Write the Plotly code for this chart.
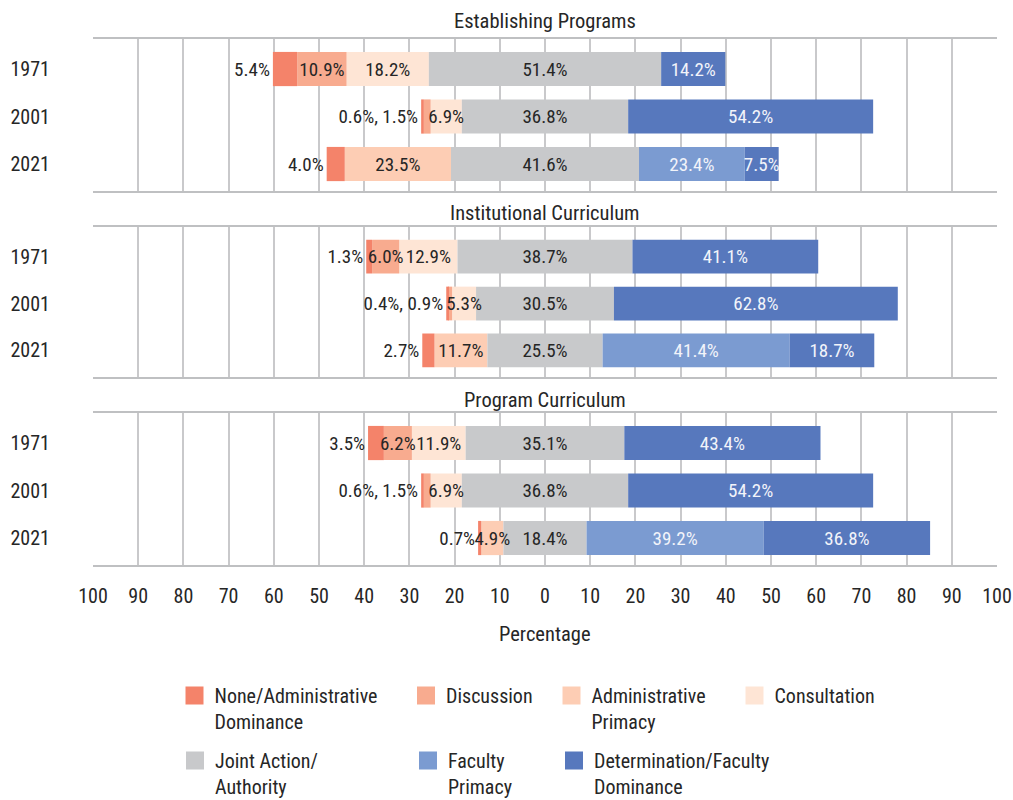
import plotly.graph_objects as go

# ---------------- data ----------------
years = ["1971", "2001", "2021"]
panels = ["Establishing Programs", "Institutional Curriculum", "Program Curriculum"]

none_admin = [[5.4, 0.6, 4.0], [1.3, 0.4, 2.7], [3.5, 0.6, 0.7]]
discussion = [[10.9, 1.5, 0.0], [6.0, 0.9, 0.0], [6.2, 1.5, 0.0]]
admin_primacy = [[0.0, 0.0, 23.5], [0.0, 0.0, 11.7], [0.0, 0.0, 4.9]]
consultation = [[18.2, 6.9, 0.0], [12.9, 5.3, 0.0], [11.9, 6.9, 0.0]]
joint = [[51.4, 36.8, 41.6], [38.7, 30.5, 25.5], [35.1, 36.8, 18.4]]
faculty_primacy = [[0.0, 0.0, 23.4], [0.0, 0.0, 41.4], [0.0, 0.0, 39.2]]
determination = [[14.2, 54.2, 7.5], [41.1, 62.8, 18.7], [43.4, 54.2, 36.8]]

series_names = ["None/Administrative<br>Dominance", "Discussion", "Administrative<br>Primacy",
                "Consultation", "Joint Action/<br>Authority", "Faculty<br>Primacy",
                "Determination/Faculty<br>Dominance"]
colors = ["#F4836A", "#F8AB8F", "#FDCDB4", "#FEE5D5", "#C8C9CB", "#7B9BD1", "#5778BD"]

tick_vals = list(range(-100, 101, 10))
tick_text = [str(abs(v)) for v in tick_vals]

FONT = "Liberation Sans Narrow, Roboto Condensed, DejaVu Sans Condensed, Roboto, sans-serif"
DARK = "#262626"
LIGHT = "#F2F4FA"
W, H = 1013, 800
LBL = 19

fig = go.Figure()


def fmt(v):
    return f"{v:.1f}%"


segments = []   # (panel, colour index, lengths, bases, texts, textposition, text colour)
for p in range(3):
    left = [(3, consultation[p]), (2, admin_primacy[p]), (1, discussion[p]), (0, none_admin[p])]
    cum = [j / 2 for j in joint[p]]
    for idx, vals in left:
        texts = []
        for k, v in enumerate(vals):
            if v <= 0:
                texts.append("")
            elif idx == 0:
                d = discussion[p][k]
                texts.append(f"{fmt(v)}, {fmt(d)}" if 0 < d < 2 else fmt(v))
            elif idx == 1 and v < 2:
                texts.append("")
            else:
                texts.append(fmt(v))
        segments.append((p, idx, [-v for v in vals], [-c for c in cum], texts,
                         "outside" if idx == 0 else "inside", DARK))
        cum = [c + v for c, v in zip(cum, vals)]
    segments.append((p, 4, list(joint[p]), [-j / 2 for j in joint[p]],
                     [fmt(v) for v in joint[p]], "inside", DARK))
    cum = [j / 2 for j in joint[p]]
    for idx, vals in [(5, faculty_primacy[p]), (6, determination[p])]:
        segments.append((p, idx, list(vals), list(cum),
                         [fmt(v) if v > 0 else "" for v in vals], "inside", LIGHT))
        cum = [c + v for c, v in zip(cum, vals)]


def axes(p):
    return ("x" if p == 0 else f"x{p+1}", "y" if p == 0 else f"y{p+1}")


# coloured bars
for p, idx, xs, bases, texts, tpos, tcol in segments:
    xa, ya = axes(p)
    fig.add_trace(go.Bar(
        y=years, x=xs, base=bases, orientation="h", width=0.72,
        marker=dict(color=colors[idx], line=dict(width=0)),
        showlegend=False, xaxis=xa, yaxis=ya, hoverinfo="skip"))

# value labels on top of all bars (transparent copies of the same bars)
for p, idx, xs, bases, texts, tpos, tcol in segments:
    xa, ya = axes(p)
    fig.add_trace(go.Bar(
        y=years, x=xs, base=bases, orientation="h", width=0.72,
        marker=dict(color="rgba(0,0,0,0)", line=dict(width=0)),
        text=texts, textposition=tpos, insidetextanchor="middle", textangle=0,
        constraintext="none",
        insidetextfont=dict(color=tcol, size=LBL, family=FONT),
        outsidetextfont=dict(color=tcol, size=LBL, family=FONT),
        cliponaxis=False, showlegend=False, xaxis=xa, yaxis=ya, hoverinfo="skip"))

# legend entries (one legend per entry so they sit on the reference grid)
legend_pos = [(174.5, 697), (406, 697), (551.5, 697), (734.5, 697),
              (175, 762), (408, 762), (554, 762)]
for i, name in enumerate(series_names):
    lg = "legend" if i == 0 else f"legend{i+1}"
    fig.add_trace(go.Scatter(
        x=[None], y=[None], mode="markers", name=name,
        marker=dict(symbol="square", size=16, color=colors[i],
                    line=dict(color=colors[i], width=2)),
        showlegend=True, legend=lg, hoverinfo="skip"))

x0, x1 = 93 / W, 997 / W
panel_px = [(39, 191), (227, 377), (413, 565)]
title_px = [21, 213, 400]

layout = dict(
    width=W, height=H, template="none",
    paper_bgcolor="white", plot_bgcolor="white",
    margin=dict(l=0, r=0, t=0, b=0, autoexpand=False),
    barmode="overlay",
    font=dict(family=FONT, size=18, color=DARK),
    uniformtext=dict(minsize=LBL, mode="show"),
    annotations=[],
)
for p in range(3):
    top, bot = panel_px[p]
    sx = "" if p == 0 else str(p + 1)
    layout[f"xaxis{sx}"] = dict(
        domain=[x0, x1], range=[-100, 100], tickvals=tick_vals, ticktext=tick_text,
        showticklabels=(p == 2), showgrid=True, gridcolor="#C9C9CB", gridwidth=1.5,
        zeroline=False, showline=True, mirror=True, linecolor="#BFC0C2", linewidth=1.5,
        ticks="", tickfont=dict(size=20, color=DARK), ticklabelstandoff=12,
        anchor=f"y{sx}", automargin=False, fixedrange=True)
    layout[f"yaxis{sx}"] = dict(
        domain=[1 - bot / H, 1 - top / H], type="category",
        categoryorder="array", categoryarray=years, range=[2.568, -0.632],
        showgrid=False, zeroline=False, showline=False, ticks="",
        tickfont=dict(size=20, color=DARK), ticklabelstandoff=42,
        anchor=f"x{sx}", automargin=False, fixedrange=True)
    layout["annotations"].append(dict(
        text=panels[p], x=(x0 + x1) / 2, y=1 - title_px[p] / H,
        xref="paper", yref="paper", xanchor="center", yanchor="middle",
        showarrow=False, font=dict(size=20.5, color=DARK)))

layout["annotations"].append(dict(
    text="Percentage", x=(x0 + x1) / 2, y=1 - 634 / H, xref="paper", yref="paper",
    xanchor="center", yanchor="middle", showarrow=False, font=dict(size=20.5, color=DARK)))

for i, (lx, ty) in enumerate(legend_pos):
    lg = "legend" if i == 0 else f"legend{i+1}"
    layout[lg] = dict(
        x=lx / W, y=1 - (ty - 21) / H, xanchor="left", yanchor="top",
        orientation="v", bgcolor="rgba(0,0,0,0)", borderwidth=0, valign="top",
        font=dict(size=20, color=DARK, family=FONT), itemwidth=30, itemclick=False,
        itemdoubleclick=False)

fig.update_layout(**layout)
fig.write_html(
    "out.html",
    config={"displayModeBar": False},
    post_script="document.body.style.margin='0';"
                "document.documentElement.style.overflow='hidden';",
)
